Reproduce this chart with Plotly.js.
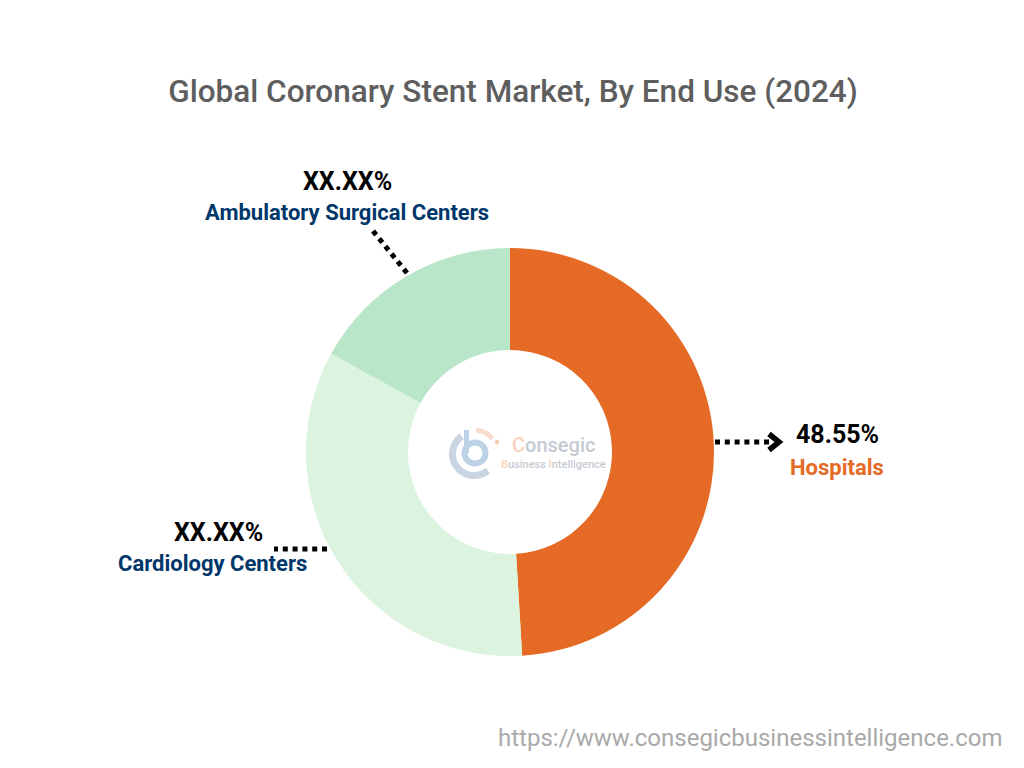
<!DOCTYPE html>
<html>
<head>
<meta charset="utf-8">
<script src="https://cdn.plot.ly/plotly-3.0.1.min.js"></script>
<style>html,body{margin:0;padding:0;background:#fff}#chart{width:1024px;height:768px}</style>
</head>
<body>
<div id="chart"></div>
<script>
var categories = ['Hospitals', 'Cardiology Centers', 'Ambulatory Surgical Centers'];
var shares = [48.55, 33.6, 16.83];
var sliceColors = ['#E46A25', '#DBF3DF', '#B9E5C9'];
var valueLabels = ['48.55%', 'XX.XX%', 'XX.XX%'];
var chartTitle = 'Global Coronary Stent Market, By End Use (2024)';
var sourceUrl = 'https://www.consegicbusinessintelligence.com';

var W = 1024, H = 768;
function px(x) { return x / W; }
function py(y) { return 1 - y / H; }
function pt(x, y) { return px(x) + ',' + py(y); }

function arcPath(cx, cy, r, a0, a1) {
  var d = '', n = 40;
  for (var i = 0; i <= n; i++) {
    var a = (a0 + (a1 - a0) * i / n) * Math.PI / 180;
    d += (i ? 'L' : 'M') + pt(cx + r * Math.sin(a), cy - r * Math.cos(a));
  }
  return d;
}
function pathShape(d, color, width) {
  return {type: 'path', xref: 'paper', yref: 'paper', layer: 'above', path: d,
          line: {color: color, width: width}};
}
function dotted(x0, y0, x1, y1) {
  return {type: 'line', xref: 'paper', yref: 'paper', layer: 'above',
          x0: px(x0), y0: py(y0), x1: px(x1), y1: py(y1),
          line: {color: '#000', width: 5, dash: '5px,4.8px'}};
}
function label(text, x, y, color, size, weight) {
  return {text: text, xref: 'paper', yref: 'paper', x: px(x), y: py(y),
          xanchor: 'center', yanchor: 'middle', showarrow: false,
          font: {family: 'Roboto, sans-serif', size: size, color: color, weight: weight}};
}

var trace = {
  type: 'pie', labels: categories, values: shares, hole: 0.5, sort: false,
  direction: 'clockwise', rotation: 0, textinfo: 'none', hoverinfo: 'label+percent',
  marker: {colors: sliceColors, line: {width: 0}},
  domain: {x: [px(306), px(714)], y: [py(656), py(248)]},
  showlegend: false
};

var shapes = [
  dotted(715, 442, 772, 442),
  pathShape('M' + pt(769, 434) + 'L' + pt(779, 442) + 'L' + pt(769, 450), '#000', 5.5),
  dotted(327, 549, 274, 549),
  dotted(407, 273, 373, 231),
  pathShape(arcPath(474, 454, 21.5, 325, 140), '#C9D5E2', 7),
  pathShape(arcPath(475, 453, 10.5, 0, 360), '#BDD2E6', 6),
  pathShape('M' + pt(466.5, 430) + 'L' + pt(466.5, 453), '#BDD2E6', 5),
  pathShape(arcPath(474, 454, 24, 5, 50), '#F8DCCD', 5),
  pathShape(arcPath(497, 442, 1, 0, 360), '#F5C9AC', 2.5)
];

var annotations = [
  label(valueLabels[0], 837, 434, '#000', 25, 700),
  label(categories[0], 837, 467, sliceColors[0], 22, 700),
  label(valueLabels[1], 218, 532.5, '#000', 25, 700),
  label(categories[1], 212, 563, '#00376B', 22, 700),
  label(valueLabels[2], 347, 182, '#000', 25, 700),
  label(categories[2], 347, 212, '#00376B', 22, 700),
  label(sourceUrl, 750, 738, '#A9A9A9', 24, 400),
  label('<span style="color:#F8D2BC">C</span>onsegic', 553, 445, '#C5CBD3', 20, 500),
  label('<span style="color:#F8D2BC">B</span>usiness <span style="color:#F8D2BC">I</span>ntelligence', 553, 464, '#C5CBD3', 11, 500)
];

var layout = {
  width: W, height: H, margin: {l: 0, r: 0, t: 0, b: 0},
  paper_bgcolor: '#fff', plot_bgcolor: '#fff',
  title: {text: chartTitle, x: px(513), y: py(91), xref: 'paper', yref: 'paper',
          xanchor: 'center', yanchor: 'middle',
          font: {family: 'Roboto, sans-serif', size: 31.5, color: '#5E5E5E', weight: 500}},
  shapes: shapes, annotations: annotations
};

Plotly.newPlot('chart', [trace], layout, {displayModeBar: false, responsive: false});
</script>
</body>
</html>
